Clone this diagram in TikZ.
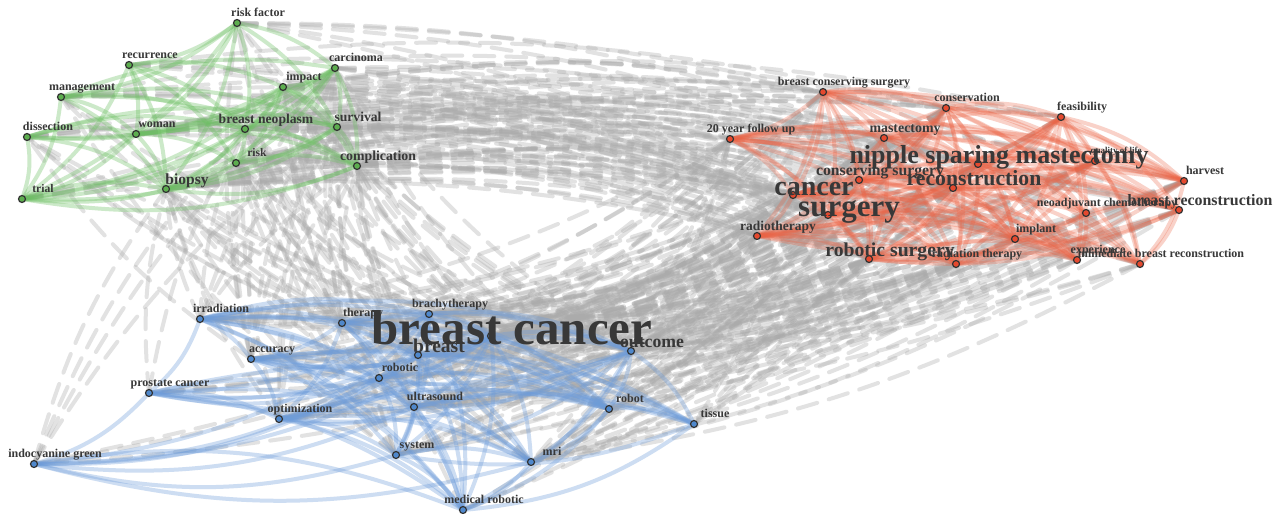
\documentclass[tikz,border=0pt]{standalone}
\usepackage{fontspec}
\setmainfont{Liberation Serif}
\usetikzlibrary{calc}
\definecolor{gfill}{HTML}{5DAE4F}
\definecolor{rfill}{HTML}{E5492E}
\definecolor{bfill}{HTML}{4F88CC}
\definecolor{gline}{HTML}{6CBF62}
\definecolor{rline}{HTML}{EC6446}
\definecolor{bline}{HTML}{6D9CDA}
\definecolor{grayline}{HTML}{ABABAB}
\definecolor{labcol}{HTML}{383838}
\definecolor{dotline}{HTML}{333333}
\begin{document}
\begin{tikzpicture}[x=0.25pt,y=-0.25pt,
  grayedge/.style={draw=grayline, line width=1pt, dash pattern=on 5pt off 3pt, line cap=round, opacity=0.34},
  greenedge/.style={draw=gline, line width=1pt, opacity=0.34, line cap=round},
  rededge/.style={draw=rline, line width=1pt, opacity=0.29, line cap=round},
  blueedge/.style={draw=bline, line width=1pt, opacity=0.34, line cap=round},
  dot/.style={circle, inner sep=0pt, minimum size=1.75pt, draw=dotline, line width=0.3pt},
  lab/.style={text=labcol, inner sep=0pt, anchor=base}]
\useasboundingbox (0,0) rectangle (1281,513);
\fill[white] (0,0) rectangle (1281,513);
% green cluster
\foreach \n/\x/\y in {rf/237/23, rec/129/65, man/61/97, carc/335/68, imp/283/87, dis/27/137, wom/136/134, bneo/245/129, surv/337/127, risk/236/163, comp/357/166, trial/22/199, biop/166/189}
  {\coordinate (\n) at (\x,\y);}
% red cluster
\foreach \n/\x/\y in {bcs/823/92, cons/946/108, fu/730/139, mast/884/138, feas/1061/117, nsm/978/164, qol/1095/161, csurg/859/180, canc/793/195, recon/953/188, surg/828/215, harv/1184/181, neo/1086/213, brec/1179/210, radio/757/236, impl/1015/239, rsurg/869/259, radt/956/264, exper/1077/260, ibr/1140/264}
  {\coordinate (\n) at (\x,\y);}
% blue cluster
\foreach \n/\x/\y in {irr/200/319, ther/342/323, brachy/429/314, bc/491/336, breast/418/355, outc/631/351, acc/251/359, rob/379/378, pc/149/393, us/414/407, opt/279/419, robot/609/409, tis/694/424, sys/396/455, mri/531/462, icg/34/464, mr/463/510}
  {\coordinate (\n) at (\x,\y);}
% node / link weight (0 peripheral, 1 normal, 2 hub)
\def\G{rf/0,rec/0,man/0,carc/1,imp/1,dis/0,wom/1,bneo/2,surv/1,risk/1,comp/1,trial/0,biop/2}
\def\R{bcs/1,cons/1,fu/1,mast/1,feas/0,nsm/2,qol/0,csurg/1,canc/2,recon/2,surg/2,harv/0,neo/0,brec/1,radio/1,impl/1,rsurg/2,radt/1,exper/0,ibr/0}
\def\B{irr/1,ther/1,brachy/1,bc/2,breast/2,outc/2,acc/1,rob/1,pc/0,us/1,opt/1,robot/1,tis/0,sys/1,mri/1,icg/0,mr/0}
% inter-cluster links
\foreach \p/\wp [count=\i] in \G {\foreach \q/\wq [count=\j] in \R {\pgfmathtruncatemacro\k{mod(\i*7+\j*11+\i*\j,5)}\pgfmathtruncatemacro\t{\wp+\wq+(\wp+\wq>1)}\ifnum\k<\t\relax \draw[grayedge] (\p) to[bend left=10] (\q);\fi}}
\foreach \p/\wp [count=\i] in \R {\foreach \q/\wq [count=\j] in \B {\pgfmathtruncatemacro\k{mod(\i*5+\j*3+\i*\j,5)}\pgfmathtruncatemacro\t{\wp+\wq+(\wp+\wq>1)}\ifnum\k<\t\relax \draw[grayedge] (\p) to[bend left=10] (\q);\fi}}
\foreach \p/\wp [count=\i] in \B {\foreach \q/\wq [count=\j] in \G {\pgfmathtruncatemacro\k{mod(\i*3+\j*7+\i*\j,5)}\pgfmathtruncatemacro\t{\wp+\wq+(\wp+\wq>1)}\ifnum\k<\t\relax \draw[grayedge] (\p) to[bend left=10] (\q);\fi}}
% intra-cluster links
\foreach \p/\wp [count=\i] in \G {\foreach \q/\wq [count=\j] in \G {\ifnum\j>\i\relax \pgfmathtruncatemacro\k{mod(\i*3+\j*5+\i*\j,5)}\pgfmathtruncatemacro\t{\wp+\wq+2}\ifnum\k<\t\relax \draw[greenedge] (\p) to[bend left=15] (\q);\fi\fi}}
\foreach \p/\wp [count=\i] in \R {\foreach \q/\wq [count=\j] in \R {\ifnum\j>\i\relax \pgfmathtruncatemacro\k{mod(\i*3+\j*5+\i*\j,5)}\pgfmathtruncatemacro\t{\wp+\wq+2}\ifnum\k<\t\relax \draw[rededge] (\p) to[bend left=15] (\q);\fi\fi}}
\foreach \p/\wp [count=\i] in \B {\foreach \q/\wq [count=\j] in \B {\ifnum\j>\i\relax \pgfmathtruncatemacro\k{mod(\i*3+\j*5+\i*\j,5)}\pgfmathtruncatemacro\t{\wp+\wq+2}\ifnum\k<\t\relax \draw[blueedge] (\p) to[bend left=15] (\q);\fi\fi}}
% dots
\foreach \n/\w in \G {\node[dot, fill=gfill] (\n-d) at (\n) {};}
\foreach \n/\w in \R {\node[dot, fill=rfill] (\n-d) at (\n) {};}
\foreach \n/\w in \B {\node[dot, fill=bfill] (\n-d) at (\n) {};}
% labels
\foreach \n/\s/\t in {rf/12/risk factor, rec/12/recurrence, man/12/management, carc/12/carcinoma, imp/12/impact, dis/12/dissection, wom/12/woman, bneo/13.6/breast neoplasm, surv/13.6/survival, risk/11.6/risk, comp/13.8/complication, trial/11.6/trial, biop/15.5/biopsy,
  bcs/12/breast conserving surgery, cons/12/conservation, fu/12/20 year follow up, mast/13.9/mastectomy, feas/12/feasibility, qol/9/quality of life, nsm/26/nipple sparing mastectomy, csurg/15.7/conserving surgery, canc/28/cancer, recon/21.7/reconstruction, surg/31/surgery, harv/12/harvest, neo/12/neoadjuvant chemotherapy, brec/15.9/breast reconstruction, radio/13.5/radiotherapy, impl/12/implant, rsurg/19.7/robotic surgery, radt/12/radiation therapy, exper/12/experience, ibr/12/immediate breast reconstruction,
  irr/12/irradiation, ther/12/therapy, brachy/12/brachytherapy, bc/49/breast cancer, breast/19.5/breast, outc/17.7/outcome, acc/12/accuracy, rob/12/robotic, pc/12/prostate cancer, us/12/ultrasound, opt/12/optimization, robot/12/robot, tis/12/tissue, sys/12/system, mri/12/mri, icg/12/indocyanine green, mr/12/medical robotic}
  {\pgfmathsetmacro\fs{0.25*\s}
   \node[lab, font=\fontsize{\fs pt}{\fs pt}\selectfont\bfseries] (\n-l) at ($(\n)+(21,{-10.9+0.405*\s})$) {\t};}
\end{tikzpicture}
\end{document}
